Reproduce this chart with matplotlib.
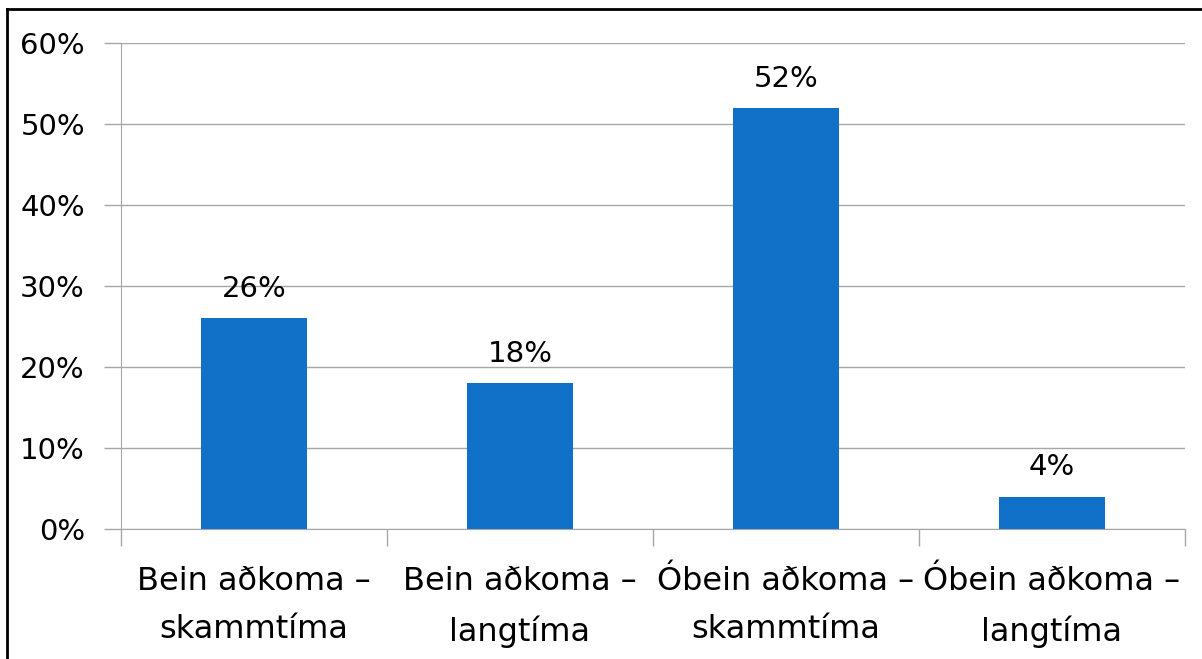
import matplotlib
matplotlib.use("Agg")
import matplotlib.pyplot as plt
from matplotlib.lines import Line2D
from matplotlib.ticker import FixedLocator, NullFormatter

categories = ["Bein aðkoma –\nskammtíma", "Bein aðkoma –\nlangtíma",
              "Óbein aðkoma –\nskammtíma", "Óbein aðkoma –\nlangtíma"]
values = [26, 18, 52, 4]
value_labels = ["26%", "18%", "52%", "4%"]
yticks = [0, 10, 20, 30, 40, 50, 60]
ytick_labels = ["0%", "10%", "20%", "30%", "40%", "50%", "60%"]

W, H = 1202, 659
fig = plt.figure(figsize=(W / 100, H / 100), dpi=100)
ax = fig.add_axes([121 / W, 1 - 529 / H, (1185 - 121) / W, (529 - 43) / H])

bar_color = "#1170C8"
grid_color = "#A6A6A6"
font = "DejaVu Sans"

x = list(range(len(categories)))
ax.bar(x, values, width=0.4, color=bar_color, zorder=3)
for xi, v, lab in zip(x, values, value_labels):
    ax.annotate(lab, (xi, v), xytext=(0, 11), textcoords="offset points",
                ha="center", va="bottom", fontsize=21, family=font, color="black")

ax.set_xlim(-0.5, len(categories) - 0.5)
ax.set_ylim(0, 60)
ax.set_yticks(yticks)
ax.set_yticklabels(ytick_labels, fontsize=21, family=font)
ax.yaxis.grid(True, color=grid_color, linewidth=1, zorder=0)

ax.set_xticks(x)
ax.set_xticklabels(categories, fontsize=23, family=font, linespacing=1.7)
ax.tick_params(axis="x", length=0, pad=27)
ax.xaxis.set_minor_locator(FixedLocator([i - 0.5 for i in range(len(categories) + 1)]))
ax.xaxis.set_minor_formatter(NullFormatter())
ax.tick_params(axis="x", which="minor", length=12, color=grid_color, width=1)
ax.tick_params(axis="y", length=12, color=grid_color, width=1, pad=14)

for s in ["top", "right"]:
    ax.spines[s].set_visible(False)
ax.spines["left"].set_color(grid_color)
ax.spines["bottom"].set_color(grid_color)

# figure border (top and left edges)
fig.add_artist(Line2D([7 / W, 1], [1 - 9 / H, 1 - 9 / H], transform=fig.transFigure,
                      color="black", linewidth=2))
fig.add_artist(Line2D([7 / W, 7 / W], [0, 1 - 9 / H], transform=fig.transFigure,
                      color="black", linewidth=2))

fig.savefig("out.png", dpi=100)
